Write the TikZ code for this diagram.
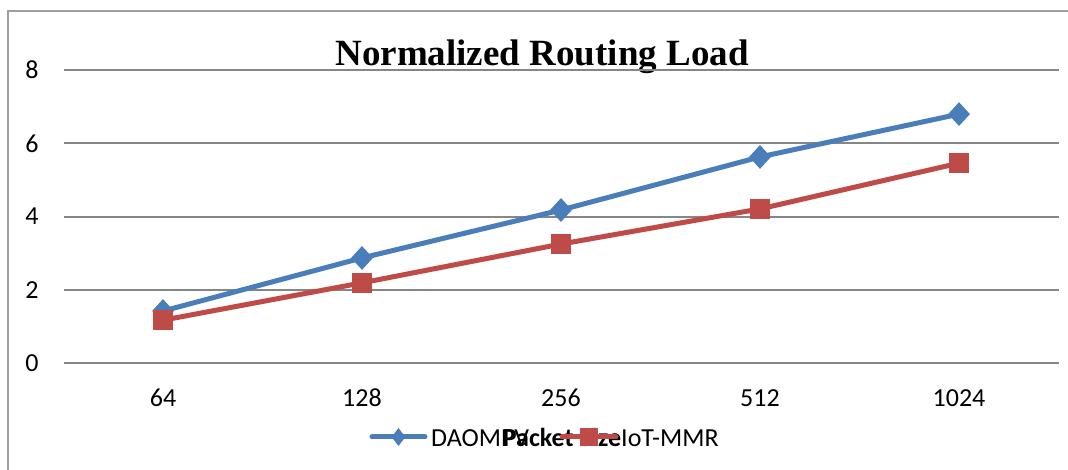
\documentclass[tikz,border=0pt]{standalone}
\usepackage{fontspec}
\setmainfont{Carlito}
\newfontfamily\titlefont{Liberation Serif}
\usepackage{xcolor}
\usetikzlibrary{shapes.geometric,positioning,calc}

\definecolor{daoblue}{RGB}{74,126,187}
\definecolor{iotred}{RGB}{190,75,72}
\definecolor{gridgray}{RGB}{134,134,134}

\tikzset{
  gridline/.style={draw=gridgray, line width=2pt},
  blueline/.style={draw=daoblue, line width=5pt, line join=round},
  redline/.style={draw=iotred, line width=5pt, line join=round},
  bluemark/.style={diamond, fill=daoblue, inner sep=0pt, minimum width=22pt, minimum height=24pt},
  redmark/.style={rectangle, fill=iotred, inner sep=0pt, minimum size=20pt},
  ticklabel/.style={font=\fontsize{26}{30}\selectfont, inner sep=0pt},
}

\begin{document}
\begin{tikzpicture}[x=1pt,y=1pt]
  \useasboundingbox (0,0) rectangle (1068,470);
  % chart frame
  \draw[draw=gridgray!80, line width=1.5pt] (8,0) -- (8,459) -- (1068,459);
  % title
  \node[font=\titlefont\bfseries\fontsize{37}{40}\selectfont, anchor=base, inner sep=0pt]
    (title) at (542,404) {Normalized Routing Load};

  \begin{scope}[shift={(163,107)}, x=199pt, y=36.6pt]
    % horizontal grid and y labels
    \foreach \v in {0,2,4,6,8} {
      \draw[gridline] (-0.5,\v) -- (4.5,\v);
      \node[ticklabel] (y\v) at (-0.658,\v) {\v};
    }
    % x labels
    \foreach \lab [count=\i from 0] in {64,128,256,512,1024}
      \node[ticklabel] (x\i) at (\i,-0.95) {\lab};

    % data points
    \foreach \val [count=\i from 0] in {1.42,2.87,4.18,5.63,6.80}
      \coordinate (d\i) at (\i,\val);
    \foreach \val [count=\i from 0] in {1.17,2.19,3.25,4.21,5.46}
      \coordinate (r\i) at (\i,\val);

    % DAOMPV series
    \draw[blueline] (d0) -- (d1) -- (d2) -- (d3) -- (d4);
    \foreach \i in {0,...,4}
      \node[bluemark] at (d\i) {};
    % IoT-MMR series
    \draw[redline] (r0) -- (r1) -- (r2) -- (r3) -- (r4);
    \foreach \i in {0,...,4}
      \node[redmark] at (r\i) {};
  \end{scope}

  % axis title
  \node[font=\bfseries\fontsize{26}{30}\selectfont, anchor=base, inner sep=0pt]
    (xtitle) at (562,23) {Packet Size};

  % legend
  \coordinate (lb1) at (372,33);
  \coordinate (lb2) at (425,33);
  \draw[blueline, line cap=round] (lb1) -- (lb2);
  \node[bluemark, minimum width=14pt, minimum height=18pt] at ($(lb1)!0.5!(lb2)$) {};
  \node[ticklabel, anchor=base west] (leg1) at (431,23) {DAOMPV};
  \coordinate (lr1) at (562,33);
  \coordinate (lr2) at (616,33);
  \draw[redline, line cap=round] (lr1) -- (lr2);
  \node[redmark, minimum size=18pt] at ($(lr1)!0.5!(lr2)$) {};
  \node[ticklabel, anchor=base west] (leg2) at (621,23) {IoT-MMR};
\end{tikzpicture}
\end{document}
